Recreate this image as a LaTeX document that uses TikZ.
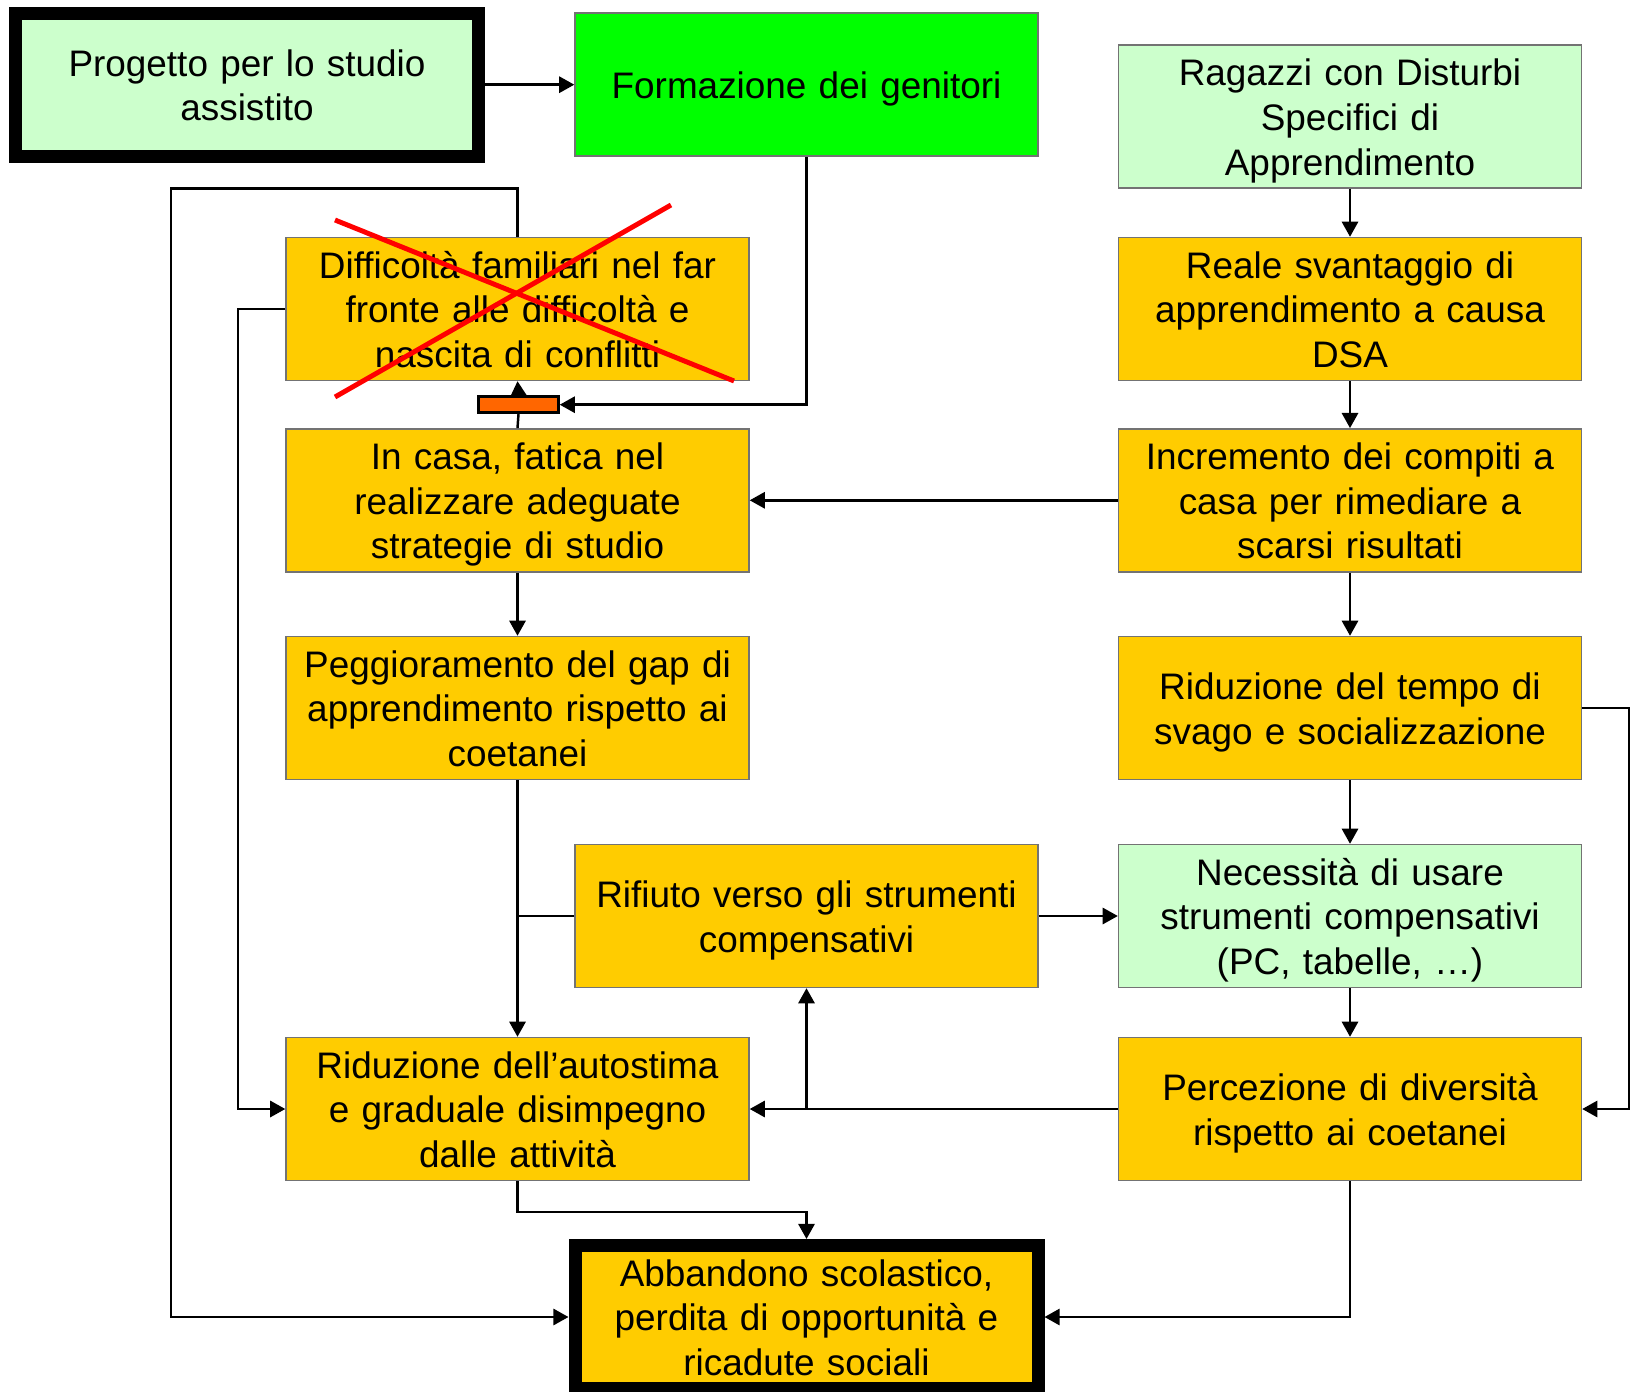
\documentclass[tikz,border=0pt]{standalone}
\usepackage{fontspec}
\setmainfont{Liberation Sans}
\usepackage{tikz}
\usetikzlibrary{arrows.meta}
\usetikzlibrary{positioning}
\definecolor{myellow}{rgb}{1, 0.8, 0}
\definecolor{mpale}{rgb}{0.8, 1, 0.8}
\definecolor{mlime}{rgb}{0, 1, 0}
\definecolor{morange}{rgb}{1, 0.4, 0}
\definecolor{mred}{rgb}{1, 0, 0}

\begin{document}
\begin{tikzpicture}[
    font=\fontsize{10.5}{12.7}\selectfont,
    box/.style={rectangle, draw=black!55, line width=0.4pt, text width=4.63cm,
      minimum height=1.43cm, inner sep=0pt, align=center,
      execute at begin node={\rule{0pt}{10.2pt}},
      execute at end node={\rule[-2.3pt]{0pt}{0pt}}},
    yellowbox/.style={box, fill=myellow},
    palebox/.style={box, fill=mpale},
    heavy/.style={draw=black, line width=0.13cm},
    conn/.style={line width=0.7pt},
    arr/.style={conn, -{Triangle[length=4.3pt, width=4.6pt]}}
  ]
      \useasboundingbox (0, 0) rectangle (16.31, -13.92);

      \node [palebox, heavy] (prog) at (2.47, -0.847) {Progetto per lo studio\\assistito};
      \node [box, fill=mlime] (form) at (8.065, -0.847) {Formazione dei genitori};
      \node [palebox] (ragazzi) at (13.5, -1.165) {Ragazzi con Disturbi\\Specifici di\\Apprendimento};

      \node [yellowbox] (diff) at (5.175, -3.09) {Difficoltà familiari nel far\\fronte alle difficoltà e\\nascita di conflitti};
      \node [yellowbox] (reale) at (13.5, -3.09) {Reale svantaggio di\\apprendimento a causa\\DSA};

      \node [yellowbox] (incasa) at (5.175, -5.003) {In casa, fatica nel\\realizzare adeguate\\strategie di studio};
      \node [yellowbox] (incr) at (13.5, -5.003) {Incremento dei compiti a\\casa per rimediare a\\scarsi risultati};

      \node [yellowbox] (pegg) at (5.175, -7.08) {Peggioramento del gap di\\apprendimento rispetto ai\\coetanei};
      \node [yellowbox] (tempo) at (13.5, -7.08) {Riduzione del tempo di\\svago e socializzazione};

      \node [yellowbox] (rifiuto) at (8.065, -9.16) {Rifiuto verso gli strumenti\\compensativi};
      \node [palebox] (nec) at (13.5, -9.16) {Necessità di usare\\strumenti compensativi\\(PC, tabelle, …)};

      \node [yellowbox] (autost) at (5.175, -11.09) {Riduzione dell’autostima\\e graduale disimpegno\\dalle attività};
      \node [yellowbox] (perc) at (13.5, -11.09) {Percezione di diversità\\rispetto ai coetanei};

      \node [yellowbox, heavy] (abb) at (8.065, -13.17) {Abbandono scolastico,\\perdita di opportunità e\\ricadute sociali};

      \node [rectangle, draw=black, line width=0.7pt, fill=morange, minimum width=0.8cm,
        minimum height=0.16cm, inner sep=0pt] (blocco) at (5.185, -4.047) {};

      \coordinate (giro) at (1.71, -1.883);
      \coordinate (lato) at (2.38, -3.09);
      \coordinate (destra) at (16.29, -7.08);
      \coordinate (piega) at (5.175, -12.12);

      \draw [arr] (prog) -- (form);
      \draw [arr] (form.south) |- (blocco.east);
      \draw [conn] (incasa.north) -- (blocco.south);
      \draw [arr] (blocco.north) -- (diff.south);

      \draw [arr] (ragazzi) -- (reale);
      \draw [arr] (reale) -- (incr);
      \draw [arr] (incr) -- (tempo);
      \draw [arr] (tempo) -- (nec);
      \draw [arr] (nec) -- (perc);
      \draw [arr] (incr) -- (incasa);
      \draw [arr] (incasa) -- (pegg);

      \draw [arr] (tempo.east) -- (destra) |- (perc.east);
      \draw [arr] (perc) -- (autost);
      \draw [arr] (perc.west -| rifiuto.south) -- (rifiuto.south);
      \draw [arr] (rifiuto) -- (nec);
      \draw [arr] (pegg) -- (autost);
      \draw [conn] (rifiuto.west) -- (rifiuto.west -| pegg.south);

      \draw [arr] (diff.west) -- (lato) |- (autost.west);
      \draw [arr] (diff.north) |- (giro) |- (abb.west);
      \draw [arr] (autost.south) -- (piega) -| (abb.north);
      \draw [arr] (perc.south) |- (abb.east);

      % cancelled box
      \draw [mred, line width=1.4pt] (3.35, -2.20) -- (7.34, -3.81);
      \draw [mred, line width=1.4pt] (3.35, -3.97) -- (6.71, -2.05);
    \end{tikzpicture}
\end{document}
